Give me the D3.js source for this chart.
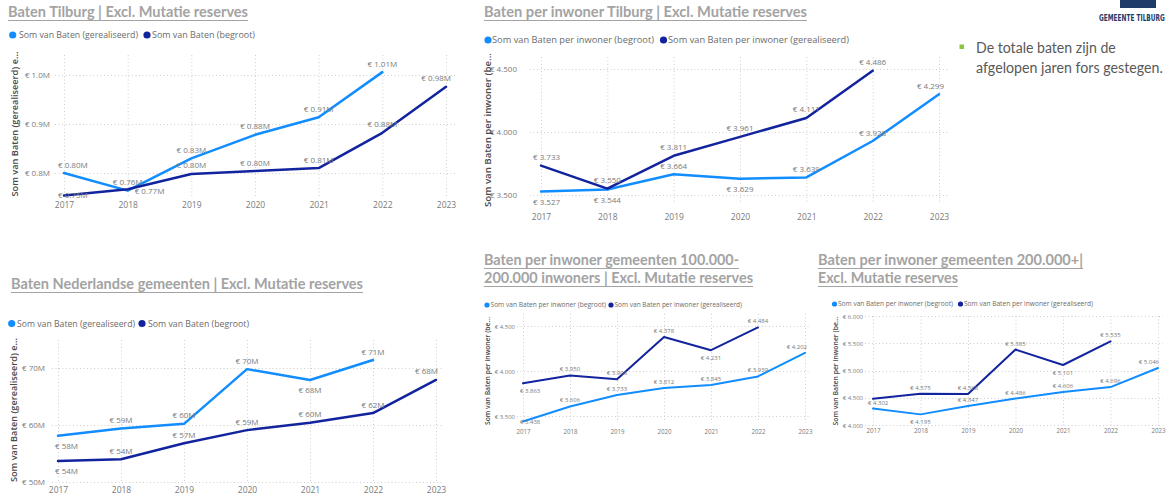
<!DOCTYPE html>
<html>
<head>
<meta charset="utf-8">
<script src="https://cdn.jsdelivr.net/npm/d3@7"></script>
<style>
  html, body { margin: 0; padding: 0; background: #fff; }
  svg { display: block; font-family: "Open Sans", "Noto Sans", sans-serif; }
</style>
</head>
<body>
<svg id="chart" width="1168" height="495"></svg>
<script>
// ---- data -------------------------------------------------------------
const years = [2017, 2018, 2019, 2020, 2021, 2022, 2023];

// Baten Tilburg (x € 1 mln)
const tilburgRealised = [0.800, 0.764, 0.830, 0.878, 0.914, 1.006];
const tilburgBudget   = [0.754, 0.767, 0.798, 0.804, 0.810, 0.882, 0.976];
const tilburgTicks    = [0.8, 0.9, 1.0];

// Baten per inwoner Tilburg (€)
const tilburgPcBudget   = [3527, 3544, 3664, 3629, 3639, 3928, 4299];
const tilburgPcRealised = [3733, 3550, 3811, 3961, 4111, 4486];
const tilburgPcTicks    = [3500, 4000, 4500];

// Baten Nederlandse gemeenten (x € 1 mln)
const nlRealised = [58.1, 59.4, 60.2, 69.8, 67.9, 71.4];
const nlBudget   = [53.7, 54.0, 56.8, 59.1, 60.4, 62.1, 67.9];
const nlTicks    = [50, 60, 70];

// Baten per inwoner gemeenten 100.000-200.000 inwoners (€)
const midBudget   = [3438, 3606, 3733, 3812, 3845, 3939, 4202];
const midRealised = [3863, 3950, 3908, 4378, 4231, 4484];
const midTicks    = [3500, 4000, 4500];

// Baten per inwoner gemeenten 200.000+ (€)
const largeBudget   = [4302, 4195, 4347, 4486, 4606, 4696, 5046];
const largeRealised = [4480, 4575, 4568, 5385, 5101, 5535];
const largeTicks    = [4000, 4500, 5000, 5500, 6000];

const legendTotalRealised = "Som van Baten (gerealiseerd)";
const legendTotalBudget   = "Som van Baten (begroot)";
const legendPcBudget      = "Som van Baten per inwoner (begroot)";
const legendPcRealised    = "Som van Baten per inwoner (gerealiseerd)";
const axisTitleTotal      = "Som van Baten (gerealiseerd) e...";
const axisTitlePc         = "Som van Baten per inwoner (be...";

const noteLines = ["De totale baten zijn de", "afgelopen jaren fors gestegen."];
const logoText  = "GEMEENTE TILBURG";

// ---- formatting ---------------------------------------------------------
const nlLocale = d3.formatLocale({ decimal: ",", thousands: ".", grouping: [3], currency: ["€ ", ""] });
const fmtPc    = v => "€ " + nlLocale.format(",.0f")(v);
const fmtMln2  = v => "€ " + d3.format(".2f")(v) + "M";
const fmtMln1  = v => "€ " + d3.format(".1f")(v) + "M";
const fmtMln0  = v => "€ " + d3.format(".0f")(v) + "M";

const LIGHT = "#118DFF";
const DARK  = "#12239E";
const TITLE_GREY = "#a3a3a3";
const TEXT_GREY = "#7a7a7a";

const svg = d3.select("#chart");
svg.append("rect").attr("width", 1168).attr("height", 495).attr("fill", "#fff");

// ---- panel layout -------------------------------------------------------
const panels = [
  {
    title: ["Baten Tilburg | Excl. Mutatie reserves"], titleX: 8, titleBase: [17], titleW: [240],
    xRange: [64, 446], yDomain: [0.751, 1.041], yRange: [197, 55],
    gridTop: 55, gridBottom: 198, gridX0: 55, gridX1: 455, labelBottom: 198,
    tickRight: 50, ticks: tilburgTicks, tickFmt: fmtMln1, yearBase: 208,
    axisTitle: axisTitleTotal, axisTitleX: 15, axisTitleCY: 124, axisTitleW: 145,
    legendY: 35, small: false,
    series: [
      { name: legendTotalRealised, values: tilburgRealised, color: LIGHT, dot: 12.7, tx: 19, tw: 119, fmt: fmtMln2, below: [], right: [] },
      { name: legendTotalBudget, values: tilburgBudget, color: DARK, dot: 147, tx: 152, tw: 103, fmt: fmtMln2, below: [2017], right: [2018] }
    ]
  },
  {
    title: ["Baten per inwoner Tilburg | Excl. Mutatie reserves"], titleX: 484, titleBase: [17], titleW: [323],
    xRange: [541, 939], yDomain: [3460, 4650], yRange: [200, 50],
    gridTop: 57, gridBottom: 203, gridX0: 530, gridX1: 948, labelBottom: 206,
    tickRight: 517, ticks: tilburgPcTicks, tickFmt: fmtPc, yearBase: 220,
    axisTitle: axisTitlePc, axisTitleX: 488, axisTitleCY: 130, axisTitleW: 154,
    legendY: 40, small: false,
    series: [
      { name: legendPcBudget, values: tilburgPcBudget, color: LIGHT, dot: 488, tx: 492, tw: 162, fmt: fmtPc, below: [2017, 2018, 2020], right: [] },
      { name: legendPcRealised, values: tilburgPcRealised, color: DARK, dot: 663.5, tx: 668, tw: 181, fmt: fmtPc, below: [], right: [] }
    ]
  },
  {
    title: ["Baten Nederlandse gemeenten | Excl. Mutatie reserves"], titleX: 11, titleBase: [289], titleW: [352],
    xRange: [58, 436], yDomain: [50, 75], yRange: [482, 339.5],
    gridTop: 340, gridBottom: 483, gridX0: 52, gridX1: 442, labelBottom: 484,
    tickRight: 45, ticks: nlTicks, tickFmt: fmtMln0, yearBase: 493,
    axisTitle: axisTitleTotal, axisTitleX: 14, axisTitleCY: 410, axisTitleW: 144,
    legendY: 323.5, small: false,
    series: [
      { name: legendTotalRealised, values: nlRealised, color: LIGHT, dot: 11.7, tx: 17, tw: 118, fmt: fmtMln0, below: [2017, 2021], right: [] },
      { name: legendTotalBudget, values: nlBudget, color: DARK, dot: 142, tx: 148, tw: 101, fmt: fmtMln0, below: [2017], right: [] }
    ]
  },
  {
    title: ["Baten per inwoner gemeenten 100.000-", "200.000 inwoners | Excl. Mutatie reserves"],
    titleX: 484, titleBase: [265, 283], titleW: [255, 269],
    xRange: [523, 805], yDomain: [3433, 4678], yRange: [422, 310],
    gridTop: 314, gridBottom: 423, gridX0: 517, gridX1: 811, labelBottom: 424,
    tickRight: 515, ticks: midTicks, tickFmt: fmtPc, yearBase: 434,
    axisTitle: axisTitlePc, axisTitleX: 487.5, axisTitleCY: 371, axisTitleW: 108,
    legendY: 305, small: true,
    series: [
      { name: legendPcBudget, values: midBudget, color: LIGHT, dot: 487, tx: 490.5, tw: 115.5, fmt: fmtPc, below: [2017], right: [] },
      { name: legendPcRealised, values: midRealised, color: DARK, dot: 611, tx: 614.5, tw: 127.5, fmt: fmtPc, below: [2017, 2021], right: [] }
    ]
  },
  {
    title: ["Baten per inwoner gemeenten 200.000+|", "Excl. Mutatie reserves"],
    titleX: 818, titleBase: [265, 283], titleW: [265, 140],
    xRange: [873, 1158], yDomain: [4000, 6000], yRange: [425, 316],
    gridTop: 316, gridBottom: 426, gridX0: 865, gridX1: 1163, labelBottom: 426,
    tickRight: 863, ticks: largeTicks, tickFmt: fmtPc, yearBase: 433,
    axisTitle: axisTitlePc, axisTitleX: 835.5, axisTitleCY: 371, axisTitleW: 109,
    legendY: 304, small: true,
    series: [
      { name: legendPcBudget, values: largeBudget, color: LIGHT, dot: 834.5, tx: 838, tw: 115, fmt: fmtPc, below: [2018], right: [] },
      { name: legendPcRealised, values: largeRealised, color: DARK, dot: 960.5, tx: 964, tw: 129, fmt: fmtPc, below: [2021], right: [], hidden: [2017] }
    ]
  }
];

// ---- drawing ------------------------------------------------------------
function drawPanel(p) {
  const g = svg.append("g");
  const s = p.small;
  const labelSize = s ? 6 : 8;
  const tickSize = s ? 6 : 8;
  const yearSize = s ? 6.2 : 8.5;

  // title, underlined
  p.title.forEach((t, i) => {
    g.append("text")
      .attr("x", p.titleX).attr("y", p.titleBase[i])
      .attr("font-family", "Lato, 'Open Sans', sans-serif")
      .attr("font-weight", 700).attr("font-size", 15.5)
      .attr("fill", TITLE_GREY)
      .attr("textLength", p.titleW[i]).attr("lengthAdjust", "spacingAndGlyphs")
      .text(t);
    g.append("line")
      .attr("x1", p.titleX).attr("x2", p.titleX + p.titleW[i])
      .attr("y1", p.titleBase[i] + 3.5).attr("y2", p.titleBase[i] + 3.5)
      .attr("stroke", TITLE_GREY).attr("stroke-width", 1);
  });

  // legend
  const leg = g.append("g");
  p.series.forEach(sr => {
    leg.append("circle").attr("cx", sr.dot).attr("cy", p.legendY).attr("r", s ? 2.6 : 3.6).attr("fill", sr.color);
    leg.append("text")
      .attr("x", sr.tx).attr("y", p.legendY).attr("dy", "0.35em")
      .attr("font-size", s ? 6.5 : 9).attr("fill", "#6b6b6b")
      .attr("textLength", sr.tw).attr("lengthAdjust", "spacingAndGlyphs")
      .text(sr.name);
  });

  const x = d3.scalePoint().domain(years).range(p.xRange);
  const y = d3.scaleLinear().domain(p.yDomain).range(p.yRange);

  // dotted grid
  const grid = g.append("g").attr("stroke", "#cfcfcf").attr("stroke-width", 1).attr("stroke-dasharray", "1,2.5");
  grid.selectAll(".vg").data(years).join("line")
    .attr("x1", d => x(d) + 0.5).attr("x2", d => x(d) + 0.5)
    .attr("y1", p.gridTop).attr("y2", p.gridBottom);
  grid.selectAll(".hg").data(p.ticks).join("line")
    .attr("x1", p.gridX0).attr("x2", p.gridX1)
    .attr("y1", d => Math.round(y(d)) + 0.5).attr("y2", d => Math.round(y(d)) + 0.5);

  // y axis labels
  const yAxis = g.append("g").attr("transform", `translate(${p.tickRight},0)`)
    .call(d3.axisLeft(y).tickValues(p.ticks).tickFormat(p.tickFmt).tickSize(0).tickPadding(0));
  yAxis.select(".domain").remove();
  yAxis.selectAll("text").attr("x", 0).attr("dy", "0.35em")
    .attr("font-size", tickSize).attr("font-family", "'Open Sans', sans-serif").attr("fill", TEXT_GREY);

  // x axis labels
  const xAxis = g.append("g").attr("transform", `translate(0,${p.yearBase})`)
    .call(d3.axisBottom(x).tickSize(0).tickPadding(0).tickFormat(d3.format("d")));
  xAxis.select(".domain").remove();
  xAxis.selectAll("text").attr("y", 0).attr("dy", 0)
    .attr("font-size", yearSize).attr("font-family", "'Open Sans', sans-serif").attr("fill", TEXT_GREY);

  // y axis title
  g.append("text")
    .attr("transform", `translate(${p.axisTitleX},${p.axisTitleCY}) rotate(-90)`)
    .attr("text-anchor", "middle").attr("dy", "0.35em")
    .attr("font-size", s ? 7 : 9.5).attr("font-weight", 600).attr("fill", "#4a4a4a")
    .attr("textLength", p.axisTitleW).attr("lengthAdjust", "spacingAndGlyphs")
    .text(p.axisTitle);

  // lines
  const line = d3.line().x((d, i) => x(years[i])).y(d => y(d));
  p.series.forEach(sr => {
    g.append("path").datum(sr.values)
      .attr("d", line).attr("fill", "none")
      .attr("stroke", sr.color).attr("stroke-width", s ? 2 : 2.5)
      .attr("stroke-linejoin", "round").attr("stroke-linecap", "round");
  });

  // data labels
  const lab = g.append("g").attr("font-size", labelSize).attr("fill", TEXT_GREY)
    .attr("font-family", "'Open Sans', sans-serif");
  const up = s ? 4 : 5.5, down = s ? 10 : 13.5;
  p.series.forEach(sr => {
    sr.values.forEach((v, i) => {
      const yr = years[i];
      if (sr.hidden && sr.hidden.includes(yr)) return;
      const px = x(yr), py = y(v);
      const t = lab.append("text").text(sr.fmt(v));
      const w = t.node().getComputedTextLength();
      if (sr.right.includes(yr)) {
        t.attr("x", px + 7).attr("y", py + 5);
        return;
      }
      let base = sr.below.includes(yr) ? py + down : py - up;
      base = Math.min(base, p.labelBottom);
      let left = px - w / 2;
      left = Math.max(left, p.gridX0 + 3);
      left = Math.min(left, p.gridX1 - 4 - w);
      t.attr("x", left).attr("y", base);
    });
  });
}

panels.forEach(drawPanel);

// Fit a text horizontally into a given width with a plain x-scale,
// so its box stays inside the drawing.
function fitText(sel, x, yBase, width) {
  sel.attr("x", 0).attr("y", 0);
  const w = sel.node().getComputedTextLength();
  sel.attr("transform", `translate(${x},${yBase}) scale(${width / w},1)`);
}

// ---- side note ------------------------------------------------------------
const note = svg.append("g").attr("font-family", "Lato, 'Open Sans', sans-serif").attr("font-size", 15).attr("fill", "#595959");
note.append("rect").attr("x", 959.5).attr("y", 44.5).attr("width", 4.5).attr("height", 4.5).attr("fill", "#8cc63e");
fitText(note.append("text").text(noteLines[0]), 976, 52.5, 140);
fitText(note.append("text").text(noteLines[1]), 976, 72.5, 187);

// ---- logo -----------------------------------------------------------------
const logo = svg.append("g");
logo.append("rect").attr("x", 1120).attr("y", -2).attr("width", 36).attr("height", 10).attr("fill", "#1f3a68");
fitText(
  logo.append("text")
    .attr("font-family", "'Liberation Sans Narrow', 'DejaVu Sans Condensed', sans-serif")
    .attr("font-weight", 700).attr("font-size", 9.5).attr("fill", "#1f3a68")
    .text(logoText),
  1099, 20.5, 66
);
</script>
</body>
</html>
